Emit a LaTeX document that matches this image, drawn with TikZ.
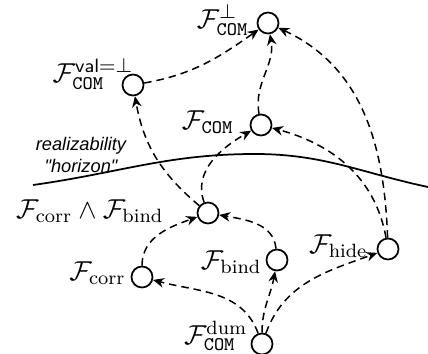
\documentclass[tikz,border=0pt,11pt]{standalone}
\usepackage{fontspec}
\newfontfamily\hfont{Liberation Sans}
\usetikzlibrary{arrows.meta}
\begin{document}
\begin{tikzpicture}[x=0.4pt,y=0.4pt,
  st/.style={circle,draw,line width=0.7pt,minimum size=8.4pt,inner sep=0pt},
  lbl/.style={anchor=east,inner sep=0pt,font=\fontsize{11}{13}\selectfont},
  dep/.style={dash pattern=on 3pt off 2pt,line width=0.6pt,-{Stealth[length=4.4pt,width=3.8pt,inset=1.4pt]}},
]
\useasboundingbox (0,0) rectangle (428,-354);
% states
\node[st] (top)  at (268,-23) {};
\node[st] (val)  at (133,-85) {};
\node[st] (com)  at (261,-125) {};
\node[st] (cb)   at (208,-213) {};
\node[st] (corr) at (142,-277) {};
\node[st] (bind) at (277,-260) {};
\node[st] (hide) at (388,-249) {};
\node[st] (dum)  at (262,-344) {};
% labels
\node[lbl] (ltop)  at (249,-20)  {$\mathcal{F}^{\perp}_{\mathtt{COM}}$};
\node[lbl] (lval)  at (134,-74)  {$\mathcal{F}^{\mathsf{val}=\perp}_{\mathtt{COM}}$};
\node[lbl] (lcom)  at (234,-122) {$\mathcal{F}_{\mathtt{COM}}$};
\node[lbl] (lcb)   at (164,-211) {$\mathcal{F}_{\mathrm{corr}}\wedge\mathcal{F}_{\mathrm{bind}}$};
\node[lbl] (lcorr) at (126,-273) {$\mathcal{F}_{\mathrm{corr}}$};
\node[lbl] (lbind) at (262,-262) {$\mathcal{F}_{\mathrm{bind}}$};
\node[lbl] (lhide) at (368,-246) {$\mathcal{F}_{\mathrm{hide}}$};
\node[lbl] (ldum)  at (248,-336) {$\mathcal{F}^{\mathrm{dum}}_{\mathtt{COM}}$};
\node[align=center,inner sep=0pt,font=\hfont\itshape\fontsize{7.3}{8.5}\selectfont] (hz) at (81,-155) {realizability\\"horizon"};
% horizon
\coordinate (h0) at (33,-185);
\coordinate (h1) at (255,-154);
\coordinate (h2) at (428,-187);
\draw[line width=0.7pt] (h0) to[out=8,in=180] (h1) to[out=0,in=168] (h2);
% dependencies
\draw[dep] (val) to[out=10,in=215] (top);
\draw[dep] (com) to[out=100,in=-80] (top);
\draw[dep] (hide) to[out=92,in=-25] (top);
\draw[dep] (hide) to[out=100,in=-15] (com);
\draw[dep] (cb) to[out=140,in=-80] (val);
\draw[dep] (cb) to[out=110,in=210] (com);
\draw[dep] (corr) to[out=90,in=200] (cb);
\draw[dep] (bind) to[out=95,in=-10] (cb);
\draw[dep] (dum) to[out=110,in=-15] (corr);
\draw[dep] (dum) to[out=90,in=-100] (bind);
\draw[dep] (dum) to[out=70,in=200] (hide);
\end{tikzpicture}
\end{document}
